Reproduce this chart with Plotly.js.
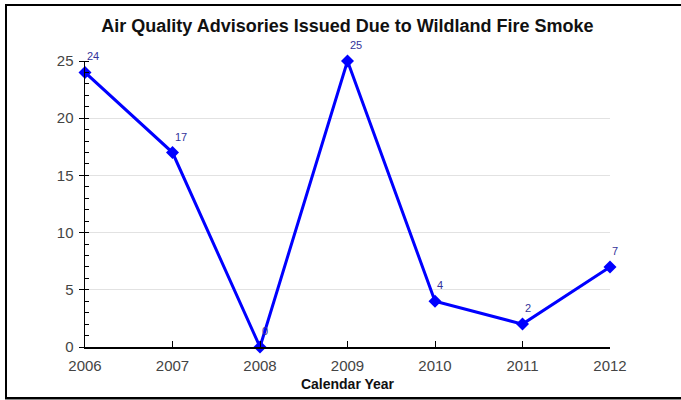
<!DOCTYPE html>
<html>
<head>
<meta charset="utf-8">
<script src="https://cdn.plot.ly/plotly-3.0.1.min.js"></script>
<style>
html,body{margin:0;padding:0;background:#fff;overflow:hidden;}
#wrap{position:relative;width:681px;height:400px;overflow:hidden;}
#chart{position:absolute;left:0;top:0;width:681px;height:400px;}
#frame{position:absolute;left:5px;top:4px;width:690px;height:391px;border-left:2px solid #000;border-top:2px solid #000;border-bottom:2px solid #000;pointer-events:none;box-shadow:0 2px 0 #888;}
</style>
</head>
<body>
<div id="wrap">
<div id="chart"></div>
<div id="frame"></div>
</div>
<script>
const years = [2006, 2007, 2008, 2009, 2010, 2011, 2012];
const advisories = [24, 17, 0, 25, 4, 2, 7];
const labels = advisories.map(String);

const trace = {
  x: years,
  y: advisories,
  type: 'scatter',
  mode: 'lines+markers',
  line: {color: '#0000ff', width: 3},
  marker: {symbol: 'diamond', size: 10, color: '#0000ff'},
  cliponaxis: false,
  hoverinfo: 'x+y'
};

const annotations = years.map((yr, i) => ({
  x: yr, y: advisories[i], xref: 'x', yref: 'y',
  text: labels[i], showarrow: false,
  xanchor: 'left', yanchor: 'bottom', xshift: 0, yshift: 8,
  font: {family: 'Liberation Sans, Arial, sans-serif', size: 11, color: '#33339a'}
}));

const layout = {
  width: 681, height: 400,
  margin: {l: 85, r: 71, t: 61, b: 53},
  paper_bgcolor: '#fff', plot_bgcolor: '#fff',
  showlegend: false,
  font: {family: 'Liberation Sans, Arial, sans-serif', color: '#333'},
  annotations: annotations,
  title: {
    text: '<b>Air Quality Advisories Issued Due to Wildland Fire Smoke</b>',
    font: {size: 18, color: '#111'},
    x: 0.5, xref: 'paper', y: 0.935, yref: 'container', yanchor: 'middle'
  },
  xaxis: {
    range: [2006, 2012],
    tickvals: years,
    ticktext: years.map(String),
    ticks: 'inside', ticklen: 6, tickcolor: '#000',
    showline: true, linecolor: '#000', linewidth: 1.5,
    showgrid: false, zeroline: false,
    ticklabelstandoff: 4,
    tickfont: {size: 15, color: '#444'},
    title: {text: '<b>Calendar Year</b>', font: {size: 14, color: '#111'}, standoff: 6}
  },
  yaxis: {
    range: [0, 25],
    dtick: 5, tick0: 0,
    ticks: 'outside', ticklen: 5, tickcolor: '#000',
    showline: true, linecolor: '#000', linewidth: 1.5,
    showgrid: true, gridcolor: '#e2e2e2', gridwidth: 1,
    zeroline: false,
    ticklabelstandoff: 2,
    tickfont: {size: 15, color: '#444'},
    minor: {ticks: 'inside', dtick: 1, ticklen: 4, tickcolor: '#000', showgrid: false}
  }
};

Plotly.newPlot('chart', [trace], layout, {displayModeBar: false, staticPlot: true});
</script>
</body>
</html>
